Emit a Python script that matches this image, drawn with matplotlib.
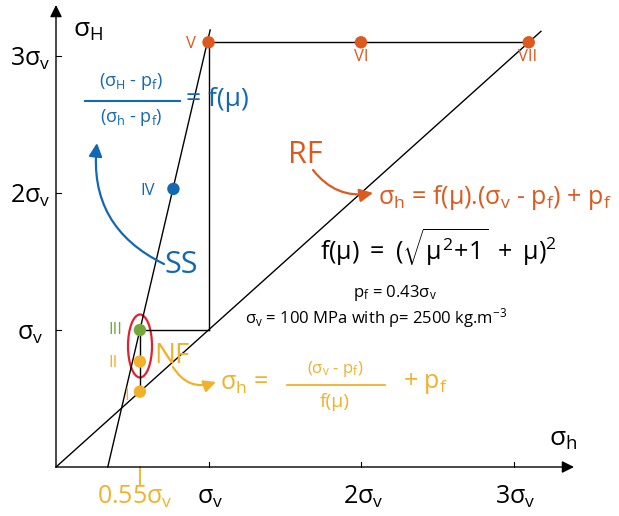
import matplotlib
matplotlib.use("Agg")
import matplotlib.pyplot as plt
from matplotlib.patches import Ellipse

plt.rcParams['font.family'] = ['Open Sans', 'DejaVu Sans']
plt.rcParams['mathtext.fontset'] = 'custom'
plt.rcParams['mathtext.rm'] = 'Open Sans'
plt.rcParams['mathtext.it'] = 'Open Sans'
plt.rcParams['mathtext.sf'] = 'Open Sans'

# ---- data (in units of sigma_v) ----
pf = 0.43
f_mu = 4.75
point_labels = ['I', 'II', 'III', 'IV', 'V', 'VI', 'VII']
point_x = [0.55, 0.55, 0.55, 0.77, 1.0, 2.0, 3.1]
point_y = [0.55, 0.77, 1.0, 2.03, 3.1, 3.1, 3.1]
x_ticks = [1, 2, 3]
x_tick_labels = ['σ$_\\mathrm{v}$', '2σ$_\\mathrm{v}$', '3σ$_\\mathrm{v}$']
y_ticks = [1, 2, 3]
y_tick_labels = ['σ$_\\mathrm{v}$', '2σ$_\\mathrm{v}$', '3σ$_\\mathrm{v}$']
nf_tick = 0.55

ORANGE = '#DD5A1E'
BLUE = '#1268B3'
YELLOW = '#F1B12A'
GREEN = '#72A83A'
RED = '#E0222E'
point_colors = [YELLOW, YELLOW, GREEN, BLUE, ORANGE, ORANGE, ORANGE]

W, H = 619, 516
X0, Y0, SX, SY = 56, 467, 152.5, 137.0


def P(x, y):
    """pixel layout position -> data coords"""
    return ((x - X0) / SX, (Y0 - y) / SY)


fig = plt.figure(figsize=(W / 100, H / 100), dpi=100)
ax = fig.add_axes([0, 0, 1, 1])
ax.set_xlim(-X0 / SX, (W - X0) / SX)
ax.set_ylim((Y0 - H) / SY, Y0 / SY)
ax.axis('off')

# axes with arrows
ax.annotate('', xy=P(574, Y0), xytext=(0, 0),
            arrowprops=dict(arrowstyle='-|>', color='black', lw=1.0,
                            mutation_scale=18, shrinkA=0, shrinkB=0))
ax.annotate('', xy=P(X0, 5), xytext=(0, 0),
            arrowprops=dict(arrowstyle='-|>', color='black', lw=1.0,
                            mutation_scale=18, shrinkA=0, shrinkB=0))
ax.text(*P(563, 440), 'σ$_\\mathrm{h}$', fontsize=19, ha='center', va='center')
ax.text(*P(88, 30), 'σ$_\\mathrm{H}$', fontsize=19, ha='center', va='center')

# ticks
tk_x = 5 / SY
tk_y = 5 / SX
for t, lab in zip(x_ticks, x_tick_labels):
    ax.plot([t, t], [0, tk_x], color='black', lw=0.8)
    ax.text(*P(X0 + t * SX + 2, 497), lab, fontsize=18, ha='center', va='center')
for t, lab in zip(y_ticks, y_tick_labels):
    ax.plot([0, tk_y], [t, t], color='black', lw=0.8)
    ax.text(*P(30, Y0 - t * SY + 3), lab, fontsize=18, ha='center', va='center')
ax.plot([nf_tick, nf_tick], [0, -18 / SY], color=YELLOW, lw=1.3)
ax.text(*P(135, 497), '0.55σ$_\\mathrm{v}$', fontsize=18, ha='center', va='center', color=YELLOW)

# diagonal sigma_H = sigma_h
d_end = 3.18
ax.plot([0, d_end], [0, d_end], color='black', lw=1.0)
# frictional limit line
y_top = 3.19
x_start = pf - pf / f_mu
x_end = pf + (y_top - pf) / f_mu
ax.plot([x_start, x_end], [0, y_top], color='black', lw=1.0)

# stress polygon lines
ax.plot([point_x[4], point_x[6]], [point_y[4], point_y[6]], color='black', lw=1.0)
ax.plot([1.0, 1.0], [1.0, point_y[4]], color='black', lw=1.0)
ax.plot([point_x[2], 1.0], [point_y[2], 1.0], color='black', lw=1.0)
ax.plot([point_x[0], point_x[2]], [point_y[0], point_y[2]], color='black', lw=1.0)

# red ellipse around NF points
ax.add_patch(Ellipse(P(140, 346), 24 / SX, 63 / SY, fill=False, edgecolor=RED, lw=1.6))

# points
ax.scatter(point_x, point_y, s=80, c=point_colors, zorder=5, linewidths=0)
label_pos = [(127, 396), (113, 363), (115, 330), (148, 191), (191, 44), (361, 57), (528, 57)]
for lab, (lx, ly), c in zip(point_labels, label_pos, point_colors):
    ax.text(*P(lx, ly), lab, fontsize=12, ha='center', va='center', color=c)

# SS annotation
ax.text(*P(181, 265), 'SS', fontsize=22, ha='center', va='center', color=BLUE)
ax.annotate('', xy=P(97, 143), xytext=P(164, 264),
            arrowprops=dict(arrowstyle='-|>', color=BLUE, lw=1.6, mutation_scale=20,
                            shrinkA=0, shrinkB=0, connectionstyle='arc3,rad=-0.35'))
ax.text(*P(131, 82), '(σ$_\\mathrm{H}$ - p$_\\mathrm{f}$)', fontsize=13, ha='center', va='center', color=BLUE)
ax.plot(*zip(P(85, 101), P(180, 101)), color=BLUE, lw=1.5)
ax.text(*P(131, 118), '(σ$_\\mathrm{h}$ - p$_\\mathrm{f}$)', fontsize=13, ha='center', va='center', color=BLUE)
ax.text(*P(186, 100), '= f(μ)', fontsize=19, ha='left', va='center', color=BLUE)

# RF annotation
ax.text(*P(305, 155), 'RF', fontsize=22, ha='center', va='center', color=ORANGE)
ax.annotate('', xy=P(373, 193), xytext=P(313, 170),
            arrowprops=dict(arrowstyle='-|>', color=ORANGE, lw=1.6, mutation_scale=20,
                            shrinkA=0, shrinkB=0, connectionstyle='arc3,rad=0.3'))
ax.text(*P(378, 197), 'σ$_\\mathrm{h}$ = f(μ).(σ$_\\mathrm{v}$ - p$_\\mathrm{f}$) + p$_\\mathrm{f}$',
        fontsize=18, ha='left', va='center', color=ORANGE)

# f(mu) definition
ax.text(*P(438, 248), r'$f(\mu)\;=\;(\sqrt{\mu^{2}\!+\!1}\;+\;\mu)^{2}$',
        fontsize=18, ha='center', va='center', color='black')
ax.text(*P(395, 293), 'p$_\\mathrm{f}$ = 0.43σ$_\\mathrm{v}$', fontsize=12, ha='center', va='center')
ax.text(*P(376, 318), 'σ$_\\mathrm{v}$ = 100 MPa with ρ= 2500 kg.m$^{-3}$', fontsize=12,
        ha='center', va='center')

# NF annotation
ax.text(*P(172, 356), 'NF', fontsize=20, ha='center', va='center', color=YELLOW)
ax.annotate('', xy=P(216, 382), xytext=P(173, 367),
            arrowprops=dict(arrowstyle='-|>', color=YELLOW, lw=1.6, mutation_scale=18,
                            shrinkA=0, shrinkB=0, connectionstyle='arc3,rad=0.4'))
ax.text(*P(220, 384), 'σ$_\\mathrm{h}$ =', fontsize=18, ha='left', va='center', color=YELLOW)
ax.text(*P(335, 369), '(σ$_\\mathrm{v}$ - p$_\\mathrm{f}$)', fontsize=12, ha='center', va='center', color=YELLOW)
ax.plot(*zip(P(287, 385), P(385, 385)), color=YELLOW, lw=1.3)
ax.text(*P(335, 402), 'f(μ)', fontsize=14, ha='center', va='center', color=YELLOW)
ax.text(*P(403, 384), '+ p$_\\mathrm{f}$', fontsize=18, ha='left', va='center', color=YELLOW)

fig.savefig('out.png', dpi=100)
